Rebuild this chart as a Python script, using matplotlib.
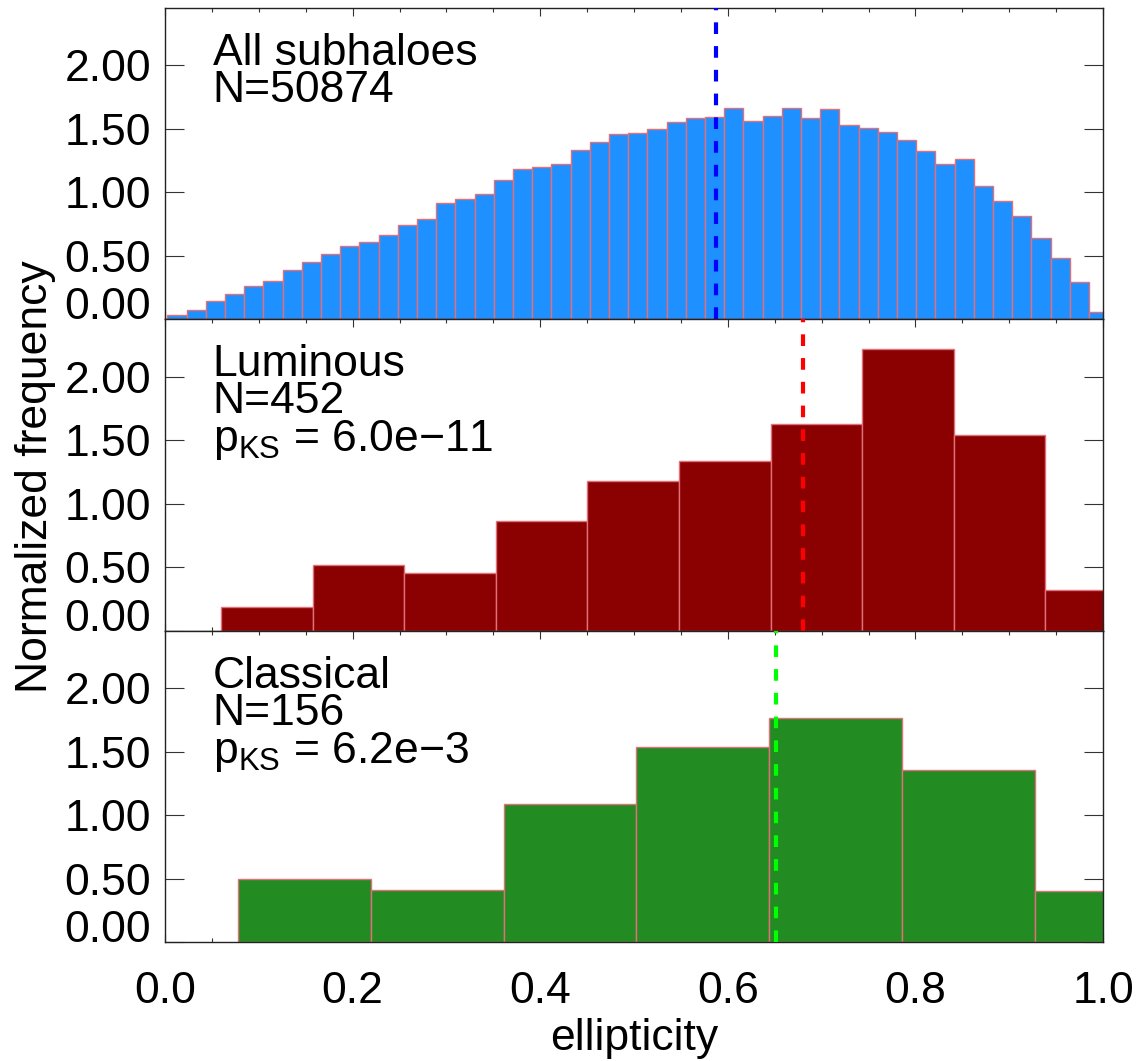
import numpy as np
import matplotlib
matplotlib.use("Agg")
import matplotlib.pyplot as plt

plt.rcParams["font.family"] = ["Liberation Sans", "DejaVu Sans"]
plt.rcParams["mathtext.fontset"] = "custom"
plt.rcParams["mathtext.rm"] = "Liberation Sans"
plt.rcParams["mathtext.it"] = "Liberation Sans"

# ---- data ----
# all subhaloes: 49 bins starting at 0.0025, width ~0.02047
all_start, all_width = 0.0025, 0.02047
all_heights = [0.037, 0.071, 0.147, 0.197, 0.266, 0.305, 0.389, 0.455, 0.516, 0.576,
               0.611, 0.666, 0.739, 0.792, 0.916, 0.947, 0.989, 1.095, 1.187, 1.200,
               1.221, 1.332, 1.395, 1.461, 1.471, 1.497, 1.555, 1.584, 1.595, 1.666,
               1.561, 1.600, 1.668, 1.589, 1.655, 1.534, 1.505, 1.474, 1.416, 1.329,
               1.224, 1.263, 1.050, 0.932, 0.816, 0.639, 0.482, 0.295, 0.058]
all_median = 0.587

lum_start, lum_width = 0.0600, 0.0976
lum_heights = [0.184, 0.522, 0.454, 0.864, 1.181, 1.341, 1.633, 2.223, 1.546, 0.318]
lum_median = 0.680

cla_start, cla_width = 0.0778, 0.1416
cla_heights = [0.501, 0.409, 1.092, 1.541, 1.769, 1.360, 0.407]
cla_median = 0.651

panels = [
    (all_start, all_width, all_heights, all_median, "#1E90FF", "#0000FF",
     ["All subhaloes", "N=50874"]),
    (lum_start, lum_width, lum_heights, lum_median, "#8B0000", "#FF0000",
     ["Luminous", "N=452", "p$_{\\rm KS}$ = 6.0e\u221211"]),
    (cla_start, cla_width, cla_heights, cla_median, "#228B22", "#00FF00",
     ["Classical", "N=156", "p$_{\\rm KS}$ = 6.2e\u22123"]),
]

yticks = [0.0, 0.5, 1.0, 1.5, 2.0]
xticks = [0.0, 0.2, 0.4, 0.6, 0.8, 1.0]

W, H = 1141, 1061
fig = plt.figure(figsize=(W / 100, H / 100), dpi=100)
left, width = 165 / W, 938 / W
ph = 311.5 / H
bottom0 = 1 - 942.3 / H

for k, (start, bw, heights, med, fc, lc, labels) in enumerate(panels):
    b = bottom0 + (2 - k) * ph
    ax = fig.add_axes([left, b, width, ph])
    edges = start + bw * np.arange(len(heights))
    ax.bar(edges, heights, width=bw, align="edge", color=fc,
           edgecolor="#e0707a", linewidth=1.0, zorder=2)
    ax.axvline(med, color=lc, lw=3, dashes=(2.8, 2.9), zorder=3)
    ax.set_xlim(0, 1)
    ax.set_ylim(0, 2.454)
    ax.set_yticks(yticks)
    ax.set_yticklabels(["%.2f" % v for v in yticks])
    ax.set_xticks(xticks)
    ax.set_xticks(np.arange(0, 1.0001, 0.05), minor=True)
    ax.tick_params(axis="both", which="both", direction="in", top=True, right=True,
                   width=0.8, color="#333333")
    ax.tick_params(axis="x", which="major", length=5.8, pad=21, labelsize=32)
    ax.tick_params(axis="x", which="minor", length=2.9)
    ax.tick_params(axis="y", which="major", length=13.7, pad=10, labelsize=32)
    for sp in ax.spines.values():
        sp.set_linewidth(1.0)
        sp.set_color("#222222")
    if k < 2:
        ax.tick_params(axis="x", labelbottom=False)
    ax.text(0.051, 0.92, "\n".join(labels), transform=ax.transAxes, fontsize=32,
            ha="left", va="top", linespacing=0.88, zorder=4)
    ax.yaxis.get_major_ticks()[0].label1.set_verticalalignment("baseline")

fig.text(36 / W, 1 - 477 / H, "Normalized frequency", rotation=90,
         ha="center", va="center", fontsize=32)
fig.text(634 / W, 11 / H, "ellipticity", ha="center", va="baseline", fontsize=32)

fig.savefig("out.png", dpi=100)
